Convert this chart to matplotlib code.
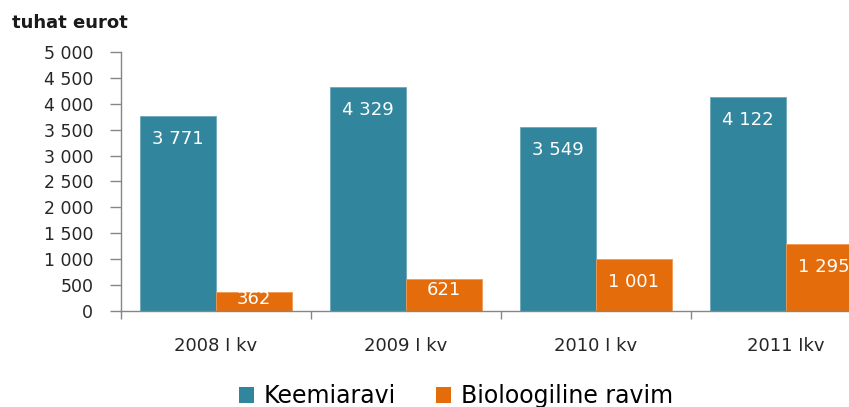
import matplotlib
matplotlib.use("Agg")
import matplotlib.pyplot as plt
from matplotlib.patches import Patch
import numpy as np

plt.rcParams['font.family'] = ['DejaVu Sans']

categories = ["2008 I kv", "2009 I kv", "2010 I kv", "2011 Ikv"]
keemiaravi = [3771, 4329, 3549, 4122]
bioloogiline = [362, 621, 1001, 1295]
series_names = ["Keemiaravi", "Bioloogiline ravim"]
yticks = [0, 500, 1000, 1500, 2000, 2500, 3000, 3500, 4000, 4500, 5000]

teal = "#31859C"
orange = "#E46C0A"
axis_col = "#868686"
text_col = "#262626"

def fmt(v):
    return f"{v:,}".replace(",", " ")

W, H = 849, 407
fig = plt.figure(figsize=(W / 100, H / 100), dpi=100)
ax = fig.add_axes([121 / W, 1 - 311 / H, 760 / W, 259 / H])

x = np.arange(len(categories))
bw = 0.4
b1 = ax.bar(x - bw / 2, keemiaravi, width=bw, color=teal, edgecolor="#6FA9BA", linewidth=0.6)
b2 = ax.bar(x + bw / 2, bioloogiline, width=bw, color=orange, edgecolor="#EE9A55", linewidth=0.6)

ax.set_xlim(-0.5, len(categories) - 0.5)
ax.set_ylim(0, 5000)

for s in ["top", "right"]:
    ax.spines[s].set_visible(False)
for s in ["left", "bottom"]:
    ax.spines[s].set_color(axis_col)
    ax.spines[s].set_linewidth(1.0)

ax.set_yticks(yticks)
ax.set_yticklabels([fmt(v) for v in yticks], fontsize=12.5, color=text_col)
ax.tick_params(axis="y", length=8, width=1.0, color=axis_col, pad=12)

ax.set_xticks(np.arange(-0.5, len(categories) + 0.5, 1.0))
ax.set_xticklabels([])
ax.tick_params(axis="x", which="major", length=6, width=1.0, color=axis_col)
ax.set_xticks(x, minor=True)
ax.set_xticklabels(categories, minor=True, fontsize=13, color=text_col)
ax.tick_params(axis="x", which="minor", length=0, pad=19)

px_per_unit = 259 / 5000.0
for bars, vals in [(b1, keemiaravi), (b2, bioloogiline)]:
    for rect, v in zip(bars, vals):
        hpx = v * px_per_unit
        off = min(23, max(7, hpx - 21))
        ax.annotate(fmt(v), (rect.get_x() + rect.get_width() / 2, v),
                    xytext=(0, -off * 0.72), textcoords="offset points",
                    ha="center", va="center", color="white", fontsize=13)

fig.text(12 / W, 1 - 28 / H, "tuhat eurot", fontsize=13, fontweight="bold",
         ha="left", va="baseline", color="#1a1a1a")

handles = [Patch(facecolor=teal, edgecolor="none"), Patch(facecolor=orange, edgecolor="none")]
fig.legend(handles, series_names, loc="center", bbox_to_anchor=(456 / W, 1 - 396 / H),
           ncol=2, frameon=False, fontsize=17, handlelength=0.64, handleheight=0.64,
           handletextpad=0.42, columnspacing=1.7)

fig.savefig("out.png", dpi=100)
